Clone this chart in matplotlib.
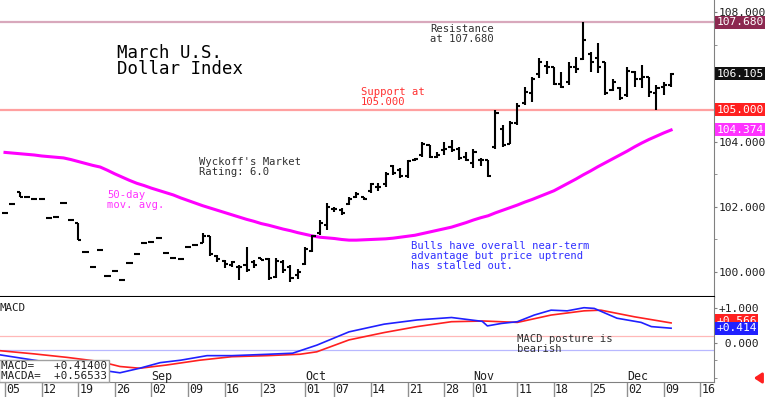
import matplotlib
matplotlib.use('Agg')
import matplotlib.pyplot as plt
from matplotlib.ticker import FixedLocator

# daily bars, Aug 05 .. Dec 10 (trading day index 0..91)
opens = [101.81, 102.08, 102.47, 102.32, 102.25, 102.25, 101.65, 101.68, 102.11, 101.60,
         101.50, 100.60, 100.16, 100.68, 99.88, 100.04, 99.75, 100.27, 100.55, 100.90,
         100.93, 101.06, 100.57, 100.42, 100.40, 100.78, 100.83, 100.90, 101.10, 100.50,
         100.35, 100.20, 100.15, 100.20, 100.30, 100.42, 100.40, 99.85, 100.30, 100.15,
         99.90, 100.25, 100.65, 101.20, 101.45, 101.95, 101.90, 102.10, 102.30, 102.30,
         102.50, 102.60, 102.70, 103.25, 103.15, 102.95, 103.45, 103.60, 103.90, 103.55,
         103.75, 103.85, 103.80, 103.55, 103.35, 103.45, 103.45, 103.85, 104.40, 103.95,
         104.60, 105.20, 105.50, 106.10, 106.35, 106.30, 105.80, 105.85, 106.30, 106.55,
         106.70, 106.60, 106.45, 105.60, 105.65, 105.45, 106.15, 105.95, 106.00, 105.50,
         105.70, 105.75]
highs = [101.81, 102.08, 102.47, 102.32, 102.25, 102.25, 101.65, 101.68, 102.11, 101.60,
         101.50, 100.60, 100.16, 100.68, 99.88, 100.04, 99.75, 100.27, 100.55, 100.90,
         100.93, 101.06, 100.57, 100.42, 100.40, 100.78, 100.83, 101.20, 101.10, 100.52,
         100.37, 100.35, 100.20, 100.78, 100.37, 100.42, 100.43, 100.43, 100.37, 100.20,
         100.10, 100.78, 101.14, 101.60, 102.12, 102.00, 101.97, 102.32, 102.47, 102.30,
         102.73, 102.73, 103.09, 103.29, 103.20, 103.45, 103.50, 104.00, 103.90, 103.70,
         104.00, 104.05, 103.85, 103.70, 103.80, 103.50, 103.45, 104.98, 104.52, 104.65,
         105.19, 105.70, 106.00, 106.57, 106.50, 106.32, 106.16, 106.47, 106.63, 107.68,
         106.78, 107.04, 106.47, 105.95, 105.70, 106.32, 106.20, 106.37, 106.00, 105.75,
         105.86, 106.11]
lows = [101.81, 102.08, 102.32, 102.32, 102.25, 102.25, 101.65, 101.68, 102.11, 101.60,
        100.98, 100.60, 100.16, 100.68, 99.88, 100.04, 99.75, 100.27, 100.55, 100.90,
        100.93, 101.06, 100.57, 100.42, 100.40, 100.78, 100.83, 100.90, 100.50, 100.32,
        100.12, 100.15, 99.75, 100.00, 100.12, 100.38, 99.75, 99.80, 99.97, 99.70,
        99.77, 100.20, 100.62, 101.14, 101.30, 101.86, 101.75, 102.06, 102.27, 102.20,
        102.43, 102.50, 102.62, 102.98, 102.90, 102.90, 103.40, 103.55, 103.50, 103.50,
        103.60, 103.70, 103.45, 103.40, 103.20, 103.25, 102.93, 103.80, 103.85, 103.95,
        104.52, 105.14, 105.24, 105.96, 106.10, 105.75, 105.65, 105.75, 106.12, 106.52,
        106.16, 106.11, 105.45, 105.58, 105.30, 105.40, 105.70, 105.65, 105.40, 104.98,
        105.45, 105.70]
closes = [101.81, 102.08, 102.32, 102.32, 102.25, 102.25, 101.65, 101.68, 102.11, 101.60,
          100.98, 100.60, 100.16, 100.68, 99.88, 100.04, 99.75, 100.27, 100.55, 100.90,
          100.93, 101.06, 100.57, 100.42, 100.40, 100.78, 100.83, 101.10, 100.55, 100.40,
          100.25, 100.30, 100.15, 100.05, 100.22, 100.38, 99.80, 100.35, 100.05, 99.80,
          100.00, 100.70, 101.10, 101.50, 102.00, 101.95, 101.80, 102.25, 102.40, 102.25,
          102.70, 102.60, 103.00, 103.05, 102.95, 103.40, 103.48, 103.95, 103.55, 103.60,
          103.80, 103.75, 103.50, 103.45, 103.70, 103.45, 102.95, 104.90, 103.90, 104.60,
          105.10, 105.55, 105.95, 106.45, 106.30, 105.80, 105.70, 106.30, 106.25, 107.15,
          106.45, 106.30, 105.50, 105.85, 105.35, 106.20, 105.95, 106.00, 105.55, 105.65,
          105.75, 106.105]

ma50 = [103.68, 103.66, 103.64, 103.62, 103.60, 103.57, 103.55, 103.53, 103.51, 103.46,
        103.40, 103.34, 103.28, 103.23, 103.13, 103.02, 102.92, 102.82, 102.73, 102.66,
        102.58, 102.51, 102.44, 102.37, 102.28, 102.20, 102.12, 102.04, 101.97, 101.90,
        101.83, 101.76, 101.69, 101.62, 101.56, 101.49, 101.44, 101.38, 101.32, 101.27,
        101.21, 101.16, 101.11, 101.07, 101.05, 101.03, 101.00, 100.98, 100.98, 100.99,
        101.00, 101.01, 101.02, 101.04, 101.07, 101.10, 101.13, 101.18, 101.23, 101.28,
        101.33, 101.38, 101.45, 101.52, 101.60, 101.67, 101.73, 101.82, 101.90, 101.98,
        102.06, 102.15, 102.23, 102.32, 102.41, 102.50, 102.62, 102.74, 102.86, 102.99,
        103.11, 103.24, 103.36, 103.48, 103.60, 103.72, 103.85, 103.97, 104.08, 104.18,
        104.28, 104.37]

macd_days = [-0.6, 4, 8.5, 13, 15.7, 18.4, 21.2, 24, 27.6, 31, 36, 39.3, 42.6, 47, 51.8,
             56.3, 61, 65.2, 65.9, 67.8, 70, 72.3, 74.6, 76.8, 79.1, 80.5, 83.6, 86.9, 88.3, 91]
macd = [-0.35, -0.50, -0.64, -0.78, -0.86, -0.73, -0.57, -0.50, -0.37, -0.37, -0.33, -0.30,
        -0.07, 0.31, 0.53, 0.65, 0.72, 0.61, 0.48, 0.55, 0.60, 0.79, 0.93, 0.91, 1.00, 0.98,
        0.70, 0.58, 0.46, 0.414]
macda_days = [-0.6, 4, 8.5, 13, 15.7, 18.4, 22, 26.6, 31, 35.8, 40.3, 42.6, 47, 51.8, 56.3,
              61, 65.4, 70, 74.6, 79.1, 81.4, 86, 91]
macda = [-0.23, -0.32, -0.42, -0.54, -0.68, -0.73, -0.64, -0.50, -0.40, -0.37, -0.33, -0.26,
         0.08, 0.29, 0.46, 0.60, 0.62, 0.58, 0.79, 0.91, 0.93, 0.74, 0.565]

day_ticks = [0, 5, 10, 15, 20, 25, 30, 35, 41, 45, 50, 55, 60, 64, 70, 75, 80, 85, 90, 95]
day_labels = ['05', '12', '19', '26', '02', '09', '16', '23', '01', '07', '14', '21', '28',
              '01', '11', '18', '25', '02', '09', '16']
month_pos = [20, 41, 64, 85]
month_labels = ['Sep', 'Oct', 'Nov', 'Dec']

resistance = 107.68
support = 105.0

MONO = 'DejaVu Sans Mono'
plt.rcParams['font.family'] = MONO

fig = plt.figure(figsize=(7.68, 3.97), dpi=100)
ax = fig.add_axes([0, 1 - 297 / 397, 714 / 768, 297 / 397])
mx = fig.add_axes([0, 1 - 382 / 397, 714 / 768, 85 / 397])

xlim = (-0.683, 96.86)
LBL = 8.1

# price panel
days = list(range(len(closes)))
ax.hlines(resistance, xlim[0], xlim[1], color='#d8a8bc', lw=1.6, zorder=1)
ax.hlines(support, xlim[0], xlim[1], color='#ffa0a0', lw=1.6, zorder=1)
ax.plot(days, ma50, color='#ff00ff', lw=2.2, zorder=2)
ax.vlines(days, lows, highs, color='black', lw=1.5, zorder=3)
ax.hlines(opens, [d - 0.42 for d in days], days, color='black', lw=1.5, zorder=3)
ax.hlines(closes, days, [d + 0.42 for d in days], color='black', lw=1.5, zorder=3)

ax.set_xlim(*xlim)
ax.set_ylim(99.23, 108.37)
ax.yaxis.tick_right()
ax.yaxis.set_major_locator(FixedLocator([100, 102, 104, 108]))
ax.yaxis.set_minor_locator(FixedLocator([100, 101, 102, 103, 104, 105, 106, 107, 108]))
ax.set_yticklabels(['100.000', '102.000', '104.000', '108.000'])
ax.tick_params(axis='y', which='both', direction='out', length=2, color='#808080',
               labelsize=LBL, pad=1, labelcolor='#202020')
ax.set_xticks([])
for s in ['left', 'top']:
    ax.spines[s].set_visible(False)
ax.spines['right'].set_color('#808080')
ax.spines['bottom'].set_color('black')
ax.spines['bottom'].set_linewidth(1.5)

tr = ax.get_yaxis_transform()
for val, txt, bg in [(104.374, '104.374', '#ff33ff'), (support, '105.000', '#ff2020'),
                     (106.105, '106.105', '#101010'), (resistance, '107.680', '#8c2850')]:
    ax.text(1.003, val, txt, transform=tr, color='white', fontsize=LBL, va='center',
            ha='left', clip_on=False, zorder=5,
            bbox=dict(boxstyle='square,pad=0.14', fc=bg, ec='none'))

fig.text(117 / 768, 1 - 61 / 397, 'March U.S.\nDollar Index', fontsize=12.5,
         va='center', ha='left', linespacing=0.88, color='black')
small = dict(fontsize=7.6, va='top', ha='left', linespacing=1.0)
fig.text(430 / 768, 1 - 24 / 397, 'Resistance\nat 107.680', color='#303030', **small)
fig.text(361 / 768, 1 - 87 / 397, 'Support at\n105.000', color='#ff3030', **small)
fig.text(199 / 768, 1 - 157 / 397, "Wyckoff's Market\nRating: 6.0", color='#303030', **small)
fig.text(107 / 768, 1 - 190 / 397, '50-day\nmov. avg.', color='#ff33ff', **small)
fig.text(411 / 768, 1 - 241 / 397,
         'Bulls have overall near-term\nadvantage but price uptrend\nhas stalled out.',
         color='#3030ff', **small)

# MACD panel
mx.axhline(0.19, color='#ffb8b8', lw=0.9, zorder=1)
mx.axhline(-0.21, color='#b8b8ff', lw=0.9, zorder=1)
mx.plot(macda_days, macda, color='#ff2020', lw=1.2, zorder=2)
mx.plot(macd_days, macd, color='#2020ff', lw=1.2, zorder=3)
mx.set_xlim(*xlim)
mx.set_ylim(-1.123, 1.306)
mx.yaxis.tick_right()
mx.yaxis.set_major_locator(FixedLocator([0, 1]))
mx.yaxis.set_minor_locator(FixedLocator([-1, -0.5, 0, 0.5, 1]))
mx.set_yticklabels([' 0.000', '+1.000'])
mx.tick_params(axis='y', which='both', direction='out', length=2, color='#808080',
               labelsize=LBL, pad=1, labelcolor='#202020')
mx.set_xticks(day_ticks)
mx.set_xticklabels([])
mx.tick_params(axis='x', direction='out', length=15, color='#909090', width=1)
for s in ['left', 'top']:
    mx.spines[s].set_visible(False)
mx.spines['right'].set_color('#808080')
mx.spines['bottom'].set_color('#808080')

xtr = mx.get_xaxis_transform()
for d, lab in zip(day_ticks, day_labels):
    mx.text(d + 0.15, -0.09, lab, transform=xtr, fontsize=8.4, va='center', ha='left',
            color='#202020', clip_on=False)
for d, lab in zip(month_pos, month_labels):
    mx.text(d, 0.07, lab, transform=xtr, fontsize=8.4, va='center', ha='left',
            color='#202020')

mtr = mx.get_yaxis_transform()
mx.text(1.003, 0.62, '+0.566', transform=mtr, color='white', fontsize=LBL, va='center',
        ha='left', clip_on=False, zorder=5,
        bbox=dict(boxstyle='square,pad=0.14', fc='#ff2020', ec='none'))
mx.text(1.003, macd[-1], '+0.414', transform=mtr, color='white', fontsize=LBL,
        va='center', ha='left', clip_on=False, zorder=6,
        bbox=dict(boxstyle='square,pad=0.14', fc='#2020ff', ec='none'))

mx.text(0.0, 0.93, 'MACD', transform=mx.transAxes, fontsize=7.8, va='top', ha='left',
        color='#202020')
fig.text(517 / 768, 1 - 334 / 397, 'MACD posture is\nbearish', color='#303030', **small)
fig.text(1 / 768, 1 - 371 / 397, 'MACD=   %+.5f\nMACDA=  %+.5f' % (macd[-1], 0.56533),
         fontsize=7.9, va='center', ha='left', linespacing=0.95, color='#202020', zorder=10,
         bbox=dict(boxstyle='square,pad=0.15', fc='white', ec='#a0a0a0', lw=1))

ax.annotate('', xy=(751, 19), xytext=(764, 19), xycoords='figure pixels',
            textcoords='figure pixels',
            arrowprops=dict(arrowstyle='-|>,head_length=0.45,head_width=0.3', color='#ff2020',
                            lw=2))

fig.savefig('out.png', dpi=100)
